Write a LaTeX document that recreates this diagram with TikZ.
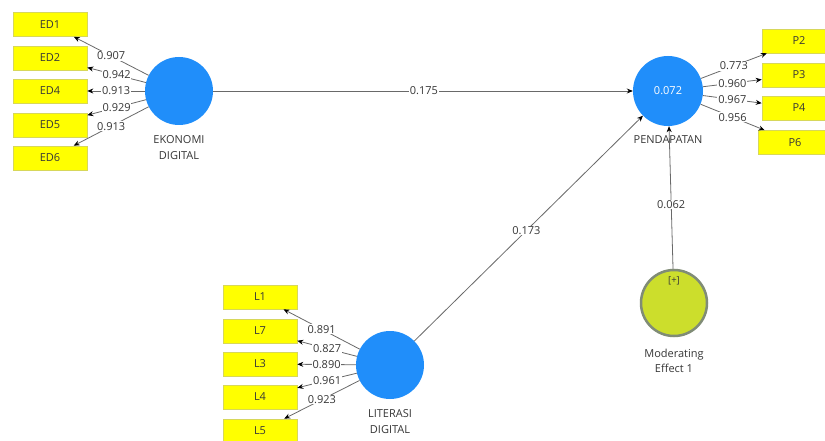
\documentclass[tikz,border=0pt]{standalone}
\usepackage{fontspec}
\setmainfont{Open Sans}
\usetikzlibrary{arrows.meta}
\definecolor{lvblue}{RGB}{32,142,250}
\definecolor{indyellow}{RGB}{255,255,0}
\definecolor{boxedge}{RGB}{215,215,90}
\definecolor{modfill}{RGB}{204,222,44}
\definecolor{modedge}{RGB}{128,140,118}
\definecolor{linegray}{RGB}{105,105,105}
\definecolor{txt}{RGB}{55,55,55}
\begin{document}
\begin{tikzpicture}[x=1pt,y=-1pt,
  font=\fontsize{11}{13}\selectfont,
  ind/.style={draw=boxedge, line width=0.6pt, fill=indyellow, minimum width=74pt, minimum height=24pt, inner sep=0pt, text=txt},
  lv/.style={circle, fill=lvblue, minimum size=68pt, inner sep=0pt},
  modlv/.style={circle, fill=modfill, draw=modedge, line width=2.5pt, minimum size=66pt, inner sep=0pt},
  conn/.style={draw=linegray, line width=0.8pt, -{Stealth[length=6pt,width=5pt,color=black]}},
  lbl/.style={fill=white, inner sep=0.8pt, text=txt},
  lvlabel/.style={align=center, anchor=north, inner sep=0pt, text=txt, font=\fontsize{11}{16.5}\selectfont}]
\useasboundingbox (0,0) rectangle (825,441);
\clip (0,0) rectangle (825,441);
\fill[white] (0,0) rectangle (825,441);

% latent variables
\node[lv] (ek) at (179,91) {};
\node[lv, minimum size=70pt] (pend) at (668,91) {\textcolor{white}{0.072}};
\node[lv] (lit) at (390,365) {};
\node[modlv] (mod) at (674,303) {};
\node[inner sep=0pt, text=txt, font=\fontsize{9.5}{11}\selectfont] (modplus) at (674,281) {[+]};

% labels under latent variables
\node[lvlabel] (ekl) at (179,135) {EKONOMI\\DIGITAL};
\node[lvlabel] (pendl) at (668,135) {PENDAPATAN};
\node[lvlabel] (litl) at (390,409) {LITERASI\\DIGITAL};
\node[lvlabel, font=\fontsize{11}{15}\selectfont] (modl) at (674,349) {Moderating\\Effect 1};

% indicators
\node[ind] (ed1) at (50,24.5) {ED1};
\node[ind] (ed2) at (50,58) {ED2};
\node[ind] (ed4) at (50,91) {ED4};
\node[ind] (ed5) at (50,125) {ED5};
\node[ind] (ed6) at (50,158) {ED6};

\node[ind] (p2) at (799,41) {P2};
\node[ind] (p3) at (799,75) {P3};
\node[ind] (p4) at (799,108) {P4};
\node[ind] (p6) at (795,142.5) {P6};

\node[ind] (l1) at (260,297) {L1};
\node[ind] (l7) at (260,331) {L7};
\node[ind] (l3) at (260,364) {L3};
\node[ind] (l4) at (260,397) {L4};
\node[ind] (l5) at (260,431) {L5};

% outer loadings
\path[conn] (ek) -- node[lbl] (ld1) {0.907} (ed1);
\path[conn] (ek) -- node[lbl] (ld2) {0.942} (ed2);
\path[conn] (ek) -- node[lbl] (ld4) {0.913} (ed4);
\path[conn] (ek) -- node[lbl] (ld5) {0.929} (ed5);
\path[conn] (ek) -- node[lbl] (ld6) {0.913} (ed6);

\path[conn] (pend) -- node[lbl] (lp2) {0.773} (p2);
\path[conn] (pend) -- node[lbl] (lp3) {0.960} (p3);
\path[conn] (pend) -- node[lbl] (lp4) {0.967} (p4);
\path[conn] (pend) -- node[lbl] (lp6) {0.956} (p6);

\path[conn] (lit) -- node[lbl] (ll1) {0.891} (l1);
\path[conn] (lit) -- node[lbl] (ll7) {0.827} (l7);
\path[conn] (lit) -- node[lbl] (ll3) {0.890} (l3);
\path[conn] (lit) -- node[lbl] (ll4) {0.961} (l4);
\path[conn] (lit) -- node[lbl] (ll5) {0.923} (l5);

% structural paths
\path[conn] (ek) -- node[lbl, pos=0.502] (c1) {0.175} (pend);
\path[conn] (lit) -- node[lbl, pos=0.49] (c2) {0.173} (pend);
\path[conn] (mod) -- node[lbl, pos=0.45] (c3) {0.062} (pend);
\end{tikzpicture}
\end{document}
